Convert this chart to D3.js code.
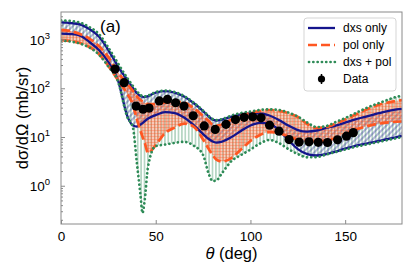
<!DOCTYPE html>
<html>
<head>
<meta charset="utf-8">
<script src="https://cdn.jsdelivr.net/npm/d3@7"></script>
<style>
  body { margin: 0; background: #fff; }
  text { font-family: "Liberation Sans", Arial, sans-serif; }
</style>
</head>
<body>
<svg id="chart" width="415" height="277"></svg>
<script>
const theta = [0, 5, 10, 15, 20, 25, 30, 35, 38, 40, 42, 43, 44, 46, 50, 55, 60, 65, 70, 75, 78, 80, 82, 85,
  90, 95, 100, 105, 110, 115, 120, 125, 130, 135, 140, 145, 150, 155, 160, 165, 170, 175, 180];

// band edges (mb/sr)
const dxsHi = [2254, 2180, 2051, 1642, 1152, 609, 286, 148, 101, 79.8, 69.3, 67.0, 66.1, 69.3, 81.7, 87.8, 81.7, 67.7, 49.8, 34.1, 26.3, 22.8, 21.8, 22.8,
  26.3, 29.2, 30.6, 30.6, 27.6, 22.3, 17.2, 13.9, 12.9, 13.6, 15.3, 17.2, 19.8, 22.8, 25.7, 28.9, 32.5, 35.8, 37.8];
const dxsLo = [1328, 1297, 1208, 889, 609, 345, 148, 26.9, 17.2, 16.4, 18.0, 19.3, 20.8, 23.9, 28.2, 32.5, 31.0, 25.1, 17.6, 11.5, 9.09, 8.07, 7.70, 8.07,
  9.99, 13.3, 17.2, 19.5, 18.5, 13.9, 8.67, 5.66, 4.47, 4.17, 4.47, 5.03, 5.80, 6.53, 7.17, 7.89, 8.67, 9.53, 10.5];
const polHi = [1582, 1494, 1297, 1048, 736, 438, 215, 122, 87.8, 69.3, 57.4, 53.9, 51.0, 47.5, 47.5, 51.5, 53.0, 50.5, 39.3, 26.9, 21.3, 18.0, 17.2, 18.0,
  22.8, 27.6, 31.0, 34.1, 35.8, 34.4, 31.0, 25.7, 18.5, 15.3, 16.0, 18.9, 22.8, 28.2, 34.9, 42.2, 48.6, 53.4, 57.4];
const polLo = [977, 932, 848, 702, 504, 286, 148, 76.1, 45.3, 23.4, 13.3, 10.2, 8.07, 4.69, 6.84, 12.1, 15.6, 18.9, 16.4, 8.87, 5.66, 4.27, 3.45, 3.14,
  3.70, 5.53, 8.27, 11.0, 12.6, 12.1, 10.2, 8.87, 8.27, 8.07, 8.46, 9.53, 11.5, 13.9, 16.0, 18.0, 19.3, 20.3, 20.8];
const bothHi = [2477, 2396, 2233, 1805, 1297, 685, 329, 162, 111, 87.8, 72.6, 69.3, 67.7, 70.9, 83.7, 89.8, 83.7, 69.3, 51.0, 34.9, 26.9, 23.4, 22.3, 23.4,
  27.6, 31.0, 33.3, 35.8, 37.0, 35.8, 31.8, 26.3, 19.8, 16.0, 16.8, 20.3, 24.5, 30.3, 37.5, 45.3, 53.4, 63.0, 70.9];
const bothLo = [954, 910, 828, 685, 492, 279, 141, 25.7, 15.3, 3.06, 0.615, 0.275, 0.442, 2.54, 6.53, 7.01, 7.59, 7.96, 6.68, 4.27, 1.74, 1.25, 1.28, 1.82,
  3.21, 4.27, 5.53, 7.35, 8.67, 7.52, 5.66, 4.47, 3.83, 3.88, 4.37, 4.92, 5.53, 6.23, 6.84, 7.52, 8.27, 9.09, 9.99];

// measured data
const dataTheta = [28.5, 33.3, 39.6, 43.3, 46.5, 51.9, 56.2, 60.5, 64.9, 69.8, 75.6, 81.4, 87.1, 92.1, 96.7, 101.2, 105.6,
  110.1, 115.1, 120.4, 125.7, 130.9, 135.8, 140.7, 146.0, 150.7, 154.3];
const dataY = [248, 130, 43.1, 37.1, 39.2, 55.1, 59.1, 50.4, 43.1, 27.3, 16.9, 14.3, 18.2, 22.8, 25.3, 26.0, 24.7,
  17.5, 13.2, 8.85, 7.86, 7.96, 7.78, 7.71, 8.77, 10.4, 12.3];
const dataErr = [20, 10, 3.5, 3, 3, 4.5, 4.5, 4, 3.5, 2.2, 1.4, 1.2, 1.5, 1.8, 2, 2, 2,
  1.4, 1.1, 0.7, 0.6, 0.6, 0.6, 0.6, 0.7, 0.8, 1.0];

const xTicks = [0, 50, 100, 150];
const yTicks = [1, 10, 100, 1000];
const legendLabels = ["dxs only", "pol only", "dxs + pol", "Data"];

const navy = "#14148c", orange = "#ff5722", green = "#2e8b57";
const pLeft = 61, pRight = 402, pTop = 12, pBottom = 224;

const svg = d3.select("#chart");
const x = d3.scaleLinear().domain([0, 180]).range([pLeft, pRight]);
const y = d3.scaleLog().domain([Math.pow(10, -0.785), Math.pow(10, 3.565)]).range([pBottom, pTop]);

const defs = svg.append("defs");
defs.append("clipPath").attr("id", "clip")
  .append("rect").attr("x", pLeft).attr("y", pTop).attr("width", pRight - pLeft).attr("height", pBottom - pTop);

// hatches
const pg = defs.append("pattern").attr("id", "hGreen").attr("patternUnits", "userSpaceOnUse")
  .attr("width", 3.4).attr("height", 10);
pg.append("line").attr("x1", 1.7).attr("x2", 1.7).attr("y1", 0).attr("y2", 10)
  .attr("stroke", green).attr("stroke-opacity", 0.6).attr("stroke-width", 1);

const pb = defs.append("pattern").attr("id", "hBlue").attr("patternUnits", "userSpaceOnUse")
  .attr("width", 4).attr("height", 4).attr("patternTransform", "rotate(45)");
pb.append("line").attr("x1", 2).attr("x2", 2).attr("y1", 0).attr("y2", 4)
  .attr("stroke", navy).attr("stroke-opacity", 0.8).attr("stroke-width", 0.8);

const po = defs.append("pattern").attr("id", "hOrange").attr("patternUnits", "userSpaceOnUse")
  .attr("width", 3).attr("height", 3);
po.append("rect").attr("width", 3).attr("height", 3).attr("fill", orange).attr("fill-opacity", 0.3);
po.append("path").attr("d", "M1.5,0V3M0,1.5H3").attr("stroke", orange)
  .attr("stroke-opacity", 0.45).attr("stroke-width", 0.7);

const plot = svg.append("g").attr("clip-path", "url(#clip)");

const band = (hi, lo) => d3.area()
  .x((d, i) => x(theta[i]))
  .y0((d, i) => y(lo[i]))
  .y1((d, i) => y(hi[i]))
  .curve(d3.curveMonotoneX)(theta);
const edge = (vals) => d3.line()
  .x((d, i) => x(theta[i]))
  .y((d, i) => y(vals[i]))
  .curve(d3.curveMonotoneX)(theta);

plot.append("path").attr("d", band(bothHi, bothLo)).attr("fill", "url(#hGreen)");
plot.append("path").attr("d", band(dxsHi, dxsLo)).attr("fill", "url(#hBlue)");
plot.append("path").attr("d", band(polHi, polLo)).attr("fill", "url(#hOrange)");

[dxsHi, dxsLo].forEach((v) => {
  plot.append("path").attr("d", edge(v)).attr("fill", "none")
    .attr("stroke", navy).attr("stroke-width", 2.3);
});
[polHi, polLo].forEach((v) => {
  plot.append("path").attr("d", edge(v)).attr("fill", "none")
    .attr("stroke", orange).attr("stroke-width", 2.7).attr("stroke-dasharray", "9,4");
});
[bothHi, bothLo].forEach((v) => {
  plot.append("path").attr("d", edge(v)).attr("fill", "none")
    .attr("stroke", green).attr("stroke-width", 2.7).attr("stroke-linecap", "round")
    .attr("stroke-dasharray", "0.1,4.2");
});

// data with error bars
const pts = plot.append("g");
pts.selectAll("line").data(dataTheta).join("line")
  .attr("x1", (d) => x(d)).attr("x2", (d) => x(d))
  .attr("y1", (d, i) => y(dataY[i] - dataErr[i]))
  .attr("y2", (d, i) => y(dataY[i] + dataErr[i]))
  .attr("stroke", "#000").attr("stroke-width", 1.5);
pts.selectAll("circle").data(dataTheta).join("circle")
  .attr("cx", (d) => x(d)).attr("cy", (d, i) => y(dataY[i]))
  .attr("r", 4.6).attr("fill", "#000");

// frame
svg.append("rect").attr("x", pLeft).attr("y", pTop).attr("width", pRight - pLeft).attr("height", pBottom - pTop)
  .attr("fill", "none").attr("stroke", "#8a8a8a").attr("stroke-width", 1);

// axes, ticks pointing inward
const xAxis = svg.append("g").attr("transform", `translate(0,${pBottom})`)
  .call(d3.axisBottom(x).tickValues(xTicks).tickSize(-4).tickPadding(7.5).tickFormat(d3.format("d")));
xAxis.select(".domain").remove();
xAxis.selectAll(".tick line").attr("stroke", "#8a8a8a");
xAxis.selectAll(".tick text").attr("fill", "#000").attr("font-size", 13.5)
  .attr("font-family", "Liberation Sans, Arial, sans-serif");

const minor = [];
[-1, 0, 1, 2, 3].forEach((k) => [2, 3, 4, 5, 6, 7, 8, 9].forEach((m) => {
  const v = m * Math.pow(10, k);
  if (v > y.domain()[0] && v < y.domain()[1]) minor.push(v);
}));
const yMinor = svg.append("g").attr("transform", `translate(${pLeft},0)`)
  .call(d3.axisLeft(y).tickValues(minor).tickSize(-2).tickFormat(""));
yMinor.select(".domain").remove();
yMinor.selectAll(".tick line").attr("stroke", "#8a8a8a");

const yAxis = svg.append("g").attr("transform", `translate(${pLeft},0)`)
  .call(d3.axisLeft(y).tickValues(yTicks).tickSize(-4).tickFormat(""));
yAxis.select(".domain").remove();
yAxis.selectAll(".tick line").attr("stroke", "#8a8a8a");

const yl = svg.append("g").selectAll("text").data(yTicks).join("text")
  .attr("x", 50).attr("y", (d) => y(d) + 5)
  .attr("text-anchor", "end").attr("font-size", 13.5).attr("fill", "#000");
yl.append("tspan").text("10");
yl.append("tspan").attr("dy", -6).attr("font-size", 9.5).text((d) => Math.round(Math.log10(d)));

// axis labels
svg.append("text").attr("transform", `translate(28,${(pTop + pBottom) / 2}) rotate(-90)`)
  .attr("text-anchor", "middle").attr("font-size", 16.5).text("dσ/dΩ (mb/sr)");
const xl = svg.append("text").attr("x", (pLeft + pRight) / 2).attr("y", 259)
  .attr("text-anchor", "middle").attr("font-size", 16.5);
xl.append("tspan").attr("font-style", "italic").text("θ");
xl.append("tspan").text(" (deg)");

svg.append("text").attr("x", 100).attr("y", 32).attr("font-size", 17).text("(a)");

// legend
const lg = svg.append("g");
lg.append("rect").attr("x", 304).attr("y", 18).attr("width", 92).attr("height", 73).attr("rx", 3)
  .attr("fill", "#fff").attr("fill-opacity", 0.85).attr("stroke", "#d5d5d5");
const rowY = [28, 45, 62, 79];
lg.append("line").attr("x1", 308).attr("x2", 335).attr("y1", rowY[0]).attr("y2", rowY[0])
  .attr("stroke", navy).attr("stroke-width", 2.3);
lg.append("line").attr("x1", 308).attr("x2", 335).attr("y1", rowY[1]).attr("y2", rowY[1])
  .attr("stroke", orange).attr("stroke-width", 2.7).attr("stroke-dasharray", "9,4");
lg.append("line").attr("x1", 309).attr("x2", 335).attr("y1", rowY[2]).attr("y2", rowY[2])
  .attr("stroke", green).attr("stroke-width", 2.7).attr("stroke-linecap", "round").attr("stroke-dasharray", "0.1,4.2");
lg.append("line").attr("x1", 321.5).attr("x2", 321.5).attr("y1", rowY[3] - 5).attr("y2", rowY[3] + 5)
  .attr("stroke", "#000").attr("stroke-width", 1.5);
lg.append("circle").attr("cx", 321.5).attr("cy", rowY[3]).attr("r", 3.6).attr("fill", "#000");
lg.selectAll("text.lab").data(legendLabels).join("text").attr("class", "lab")
  .attr("x", 343).attr("y", (d, i) => rowY[i] + 4.3).attr("font-size", 12).text((d) => d);
</script>
</body>
</html>
